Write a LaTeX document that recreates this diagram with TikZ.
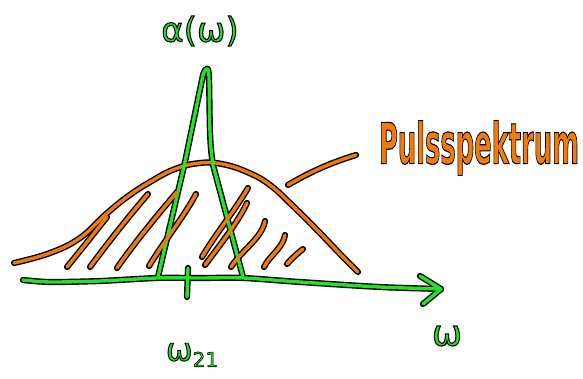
\documentclass[tikz,border=0pt]{standalone}
\usepackage{graphicx}
\usepackage{fontspec}
\newfontfamily\handfont[FakeBold=3]{DejaVu Sans}
\newfontfamily\handcond[FakeBold=2]{DejaVu Sans Condensed}
\definecolor{hgreen}{RGB}{34,228,34}
\definecolor{horange}{RGB}{240,122,12}
\pgfdeclarelayer{bg}
\pgfsetlayers{bg,main}
\tikzset{
  outl/.style={draw=black, line width=6.2pt, line cap=round, line join=round},
  gstroke/.style={draw=hgreen, line width=3.4pt, line cap=round, line join=round},
  ostroke/.style={draw=horange, line width=3.4pt, line cap=round, line join=round},
}
\newcommand\hstroke[2]{%
  \begin{pgfonlayer}{bg}\draw[outl] #2;\end{pgfonlayer}
  \draw[#1] #2;}
\newcommand\blackstroke{\special{pdf:literal 0 0 0 RG}}
\begin{document}
\begin{tikzpicture}[x=1pt,y=-1pt]
\begin{pgfonlayer}{bg}
\useasboundingbox[fill=white] (0,0) rectangle (583,379);
\end{pgfonlayer}
% orange pulse spectrum curve
\hstroke{ostroke}{plot[smooth,tension=0.7] coordinates {(14,263) (50,253) (80,238) (105,215) (127,197) (150,182) (175,169) (200,163) (222,164) (247,172) (270,185) (295,208) (320,233) (343,257) (358,272)}}
% pointer line to label
\coordinate (pa) at (288,185);
\coordinate (pb) at (356,155);
\hstroke{ostroke}{(pa) .. controls (310,172) and (330,163) .. (pb)}
% green triangle (absorption line)
\coordinate (tl) at (158,277);
\coordinate (tr) at (243,277);
\hstroke{gstroke}{(tl) -- (185,162) -- (203,75) .. controls (206,66) and (209,66) .. (209,78) .. controls (210,120) and (209,140) .. (213,165) -- (tr)}
% axis
\coordinate (ax0) at (23,280);
\coordinate (ax1) at (441,289);
\hstroke{gstroke}{plot[smooth,tension=0.5] coordinates {(ax0) (50,282) (100,281) (157,278) (200,278) (243,278) (300,282) (380,287) (ax1)}}
\hstroke{gstroke}{(420,276) -- (ax1) -- (423,304)}
% tick
\coordinate (t0) at (188,268);
\coordinate (t1) at (187,297);
\hstroke{gstroke}{(t0) -- (t1)}
% hatching
\hstroke{ostroke}{(67,267) .. controls (85,245) and (95,232) .. (107,217)}
\hstroke{ostroke}{(90,267) .. controls (110,240) and (130,215) .. (148,194)}
\hstroke{ostroke}{(117,268) .. controls (135,242) and (160,212) .. (177,192)}
\hstroke{ostroke}{(149,266) .. controls (165,240) and (185,215) .. (196,194)}
\hstroke{ostroke}{(202,257) .. controls (215,235) and (235,210) .. (248,188)}
\hstroke{ostroke}{(205,265) .. controls (220,245) and (238,222) .. (247,203)}
\hstroke{ostroke}{(231,267) .. controls (242,250) and (262,238) .. (265,221)}
\hstroke{ostroke}{(264,267) .. controls (270,255) and (283,248) .. (285,235)}
\hstroke{ostroke}{(287,264) .. controls (292,258) and (298,253) .. (303,249)}
% labels
\node[font=\handfont\fontsize{34}{34}\selectfont, text=hgreen, inner sep=0pt] (alpha) at (200,31) {\blackstroke α(ω)};
\node[font=\handfont\fontsize{32}{32}\selectfont, text=hgreen, inner sep=0pt] (w21) at (192,355) {\blackstroke ω\raisebox{-6pt}{\fontsize{20}{20}\selectfont 21}};
\node[font=\handfont\fontsize{36}{36}\selectfont, text=hgreen, inner sep=0pt] (w) at (447,336) {\blackstroke ω};
\node[font=\handcond\bfseries\fontsize{30}{30}\selectfont, text=horange, inner sep=0pt] (ps) at (479,148) {\resizebox{200pt}{43pt}{\blackstroke Pulsspektrum}};
\end{tikzpicture}
\end{document}
